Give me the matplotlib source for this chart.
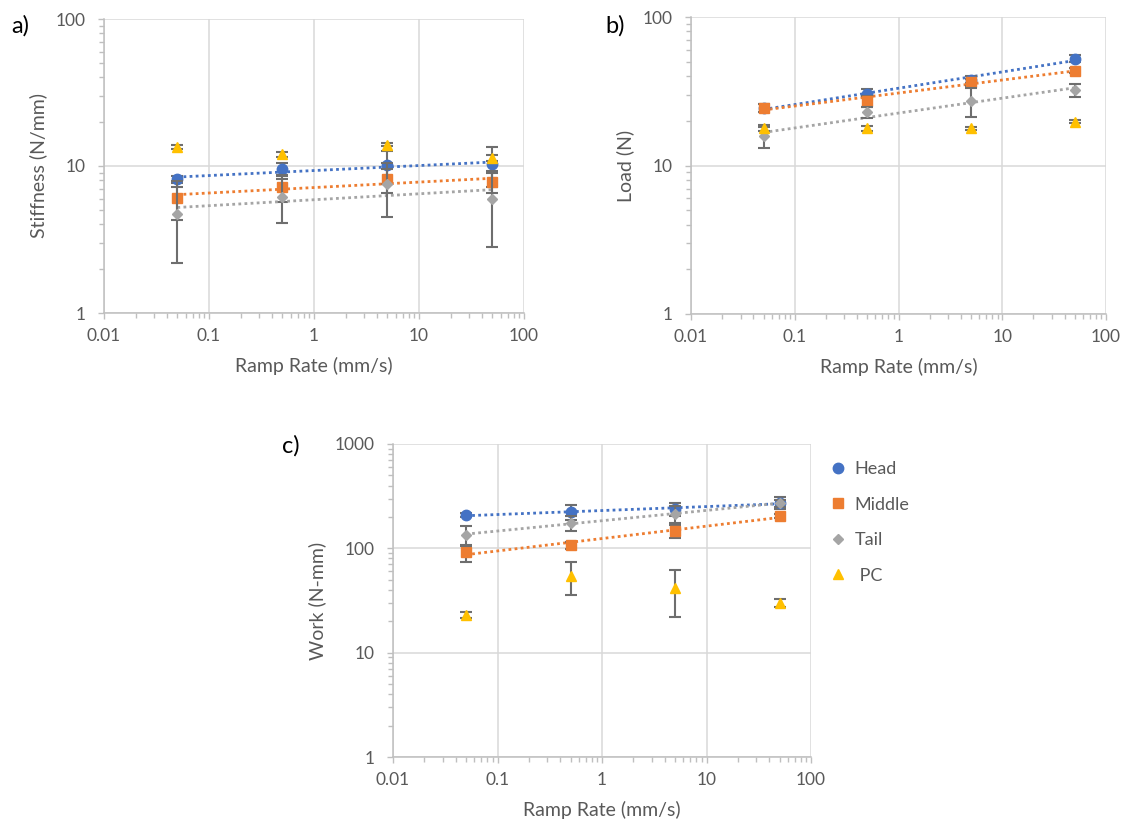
import matplotlib

matplotlib.use("Agg")
import matplotlib.pyplot as plt
import numpy as np
from matplotlib.ticker import FixedLocator, LogLocator, NullFormatter

plt.rcParams["font.family"] = ["Lato", "DejaVu Sans"]

# ramp rates (mm/s)
rates = [0.05, 0.5, 5, 50]
series_names = ["Head", "Middle", "Tail", "PC"]

# a) stiffness (N/mm), mean and error
stiff_head = [8.1, 9.5, 10.1, 10.3]
stiff_head_err = [0.4, 1.0, 2.5, 3.1]
stiff_middle = [6.1, 7.2, 8.1, 7.8]
stiff_middle_err = [1.8, 1.5, 1.5, 1.2]
stiff_tail = [4.7, 6.15, 7.5, 6.0]
stiff_tail_err = [2.5, 2.05, 3.0, 3.2]
stiff_pc = [13.5, 12.0, 14.0, 11.3]
stiff_pc_err = [0.4, 0.5, 0.4, 0.5]

# b) load (N)
load_head = [24.3, 30.5, 37.9, 52.5]
load_head_err = [1.5, 2.0, 2.0, 3.0]
load_middle = [24.5, 27.1, 36.4, 43.5]
load_middle_err = [1.5, 2.5, 2.0, 1.5]
load_tail = [15.7, 22.8, 27.1, 32.0]
load_tail_err = [2.5, 2.0, 6.0, 3.2]
load_pc = [17.9, 17.8, 17.8, 19.7]
load_pc_err = [0.8, 0.6, 0.5, 0.5]

# c) work (N-mm)
work_head = [208, 224, 236, 274]
work_head_err = [8, 38, 34, 34]
work_middle = [91.5, 107, 147, 205]
work_middle_err = [17, 8, 22, 10]
work_tail = [135, 176, 214, 270]
work_tail_err = [29, 30, 40, 20]
work_pc = [22.8, 54.6, 41.8, 29.9]
work_pc_err = [1.5, 19, 20, 2.5]

COLORS = {"Head": "#4472C4", "Middle": "#ED7D31", "Tail": "#A5A5A5", "PC": "#FFC000"}
MARKERS = {"Head": ("o", 7.5), "Middle": ("s", 7.5), "Tail": ("D", 5.0), "PC": ("^", 7.0)}
TEXT_GREY = "#595959"
GRID_GREY = "#D9D9D9"
AXIS_GREY = "#BFBFBF"
ERR_GREY = "#6E6E6E"

W, H = 1124, 826


def px_axes(fig, left, top, right, bottom):
    return fig.add_axes([left / W, 1 - bottom / H, (right - left) / W, (bottom - top) / H])


def style_axes(ax, ylim, ylabel):
    ax.set_xscale("log")
    ax.set_yscale("log")
    ax.set_xlim(0.01, 100)
    ax.set_ylim(*ylim)
    decades = np.log10(ylim)
    ax.yaxis.set_major_locator(FixedLocator(10.0 ** np.arange(decades[0], decades[1] + 1)))
    ax.xaxis.set_major_locator(FixedLocator([0.01, 0.1, 1, 10, 100]))
    ax.xaxis.set_minor_locator(LogLocator(base=10, subs=np.arange(2, 10)))
    ax.yaxis.set_minor_locator(LogLocator(base=10, subs=np.arange(2, 10)))
    ax.xaxis.set_minor_formatter(NullFormatter())
    ax.yaxis.set_minor_formatter(NullFormatter())
    ax.set_xticklabels(["0.01", "0.1", "1", "10", "100"])
    ax.set_yticklabels([f"{v:g}" for v in ax.get_yticks()])
    ax.grid(True, which="major", color=GRID_GREY, lw=1.1)
    ax.set_axisbelow(True)
    for side in ("top", "right"):
        ax.spines[side].set_visible(False)
    for side in ("left", "bottom"):
        ax.spines[side].set_color(AXIS_GREY)
        ax.spines[side].set_linewidth(1.1)
    ax.tick_params(which="major", direction="out", length=4, width=1, color=AXIS_GREY,
                   labelsize=12.5, labelcolor=TEXT_GREY)
    ax.tick_params(which="minor", direction="out", length=3.5, width=1, color=AXIS_GREY)
    ax.tick_params(axis="y", which="major", pad=9)
    ax.tick_params(axis="x", which="major", pad=7)
    ax.set_xlabel("Ramp Rate (mm/s)", fontsize=14, color=TEXT_GREY, labelpad=9)
    ax.set_ylabel(ylabel, fontsize=14, color=TEXT_GREY, labelpad=6)


def draw_series(ax, data):
    x = np.array(rates)
    handles = []
    for z, name in enumerate(series_names):
        y, err = data[name]
        y = np.array(y)
        color = COLORS[name]
        marker, size = MARKERS[name]
        if name != "PC":
            # Excel-style power trendline fitted in log-log space
            b, a = np.polyfit(np.log10(x), np.log10(y), 1)
            ax.plot(x, 10 ** (a + b * np.log10(x)), ls=(0, (1, 1.2)), lw=2.0,
                    color=color, zorder=3 + z)
        ax.errorbar(x, y, yerr=err, fmt="none", ecolor=ERR_GREY, elinewidth=1.5,
                    capsize=4.5, capthick=1.5, zorder=4 + z)
        h, = ax.plot(x, y, ls="none", marker=marker, ms=size, color=color,
                     markeredgecolor=color, zorder=5 + z, label=name)
        handles.append(h)
    return handles


fig = plt.figure(figsize=(W / 100, H / 100), dpi=100)
fig.patch.set_facecolor("white")

ax_a = px_axes(fig, 104, 19, 524, 313)
style_axes(ax_a, (1, 100), "Stiffness (N/mm)")
draw_series(ax_a, {
    "Head": (stiff_head, stiff_head_err),
    "Middle": (stiff_middle, stiff_middle_err),
    "Tail": (stiff_tail, stiff_tail_err),
    "PC": (stiff_pc, stiff_pc_err),
})

ax_b = px_axes(fig, 691, 17, 1106, 314)
style_axes(ax_b, (1, 100), "Load (N)")
draw_series(ax_b, {
    "Head": (load_head, load_head_err),
    "Middle": (load_middle, load_middle_err),
    "Tail": (load_tail, load_tail_err),
    "PC": (load_pc, load_pc_err),
})

ax_c = px_axes(fig, 393, 444, 811, 757)
style_axes(ax_c, (1, 1000), "Work (N-mm)")
handles = draw_series(ax_c, {
    "Head": (work_head, work_head_err),
    "Middle": (work_middle, work_middle_err),
    "Tail": (work_tail, work_tail_err),
    "PC": (work_pc, work_pc_err),
})

fig.legend(handles=handles, labels=["Head", "Middle", "Tail", " PC"],
           loc="upper left", bbox_to_anchor=(815 / W, 1 - 445 / H),
           frameon=False, fontsize=13, labelcolor=TEXT_GREY,
           handlelength=0.8, handletextpad=0.5, labelspacing=1.08)

for label, (px, py) in zip(["a)", "b)", "c)"], [(20, 26), (615, 26), (291, 446)]):
    fig.text(px / W, 1 - py / H, label, fontsize=17, color="black",
             ha="center", va="center")

fig.savefig("out.png", dpi=100)
